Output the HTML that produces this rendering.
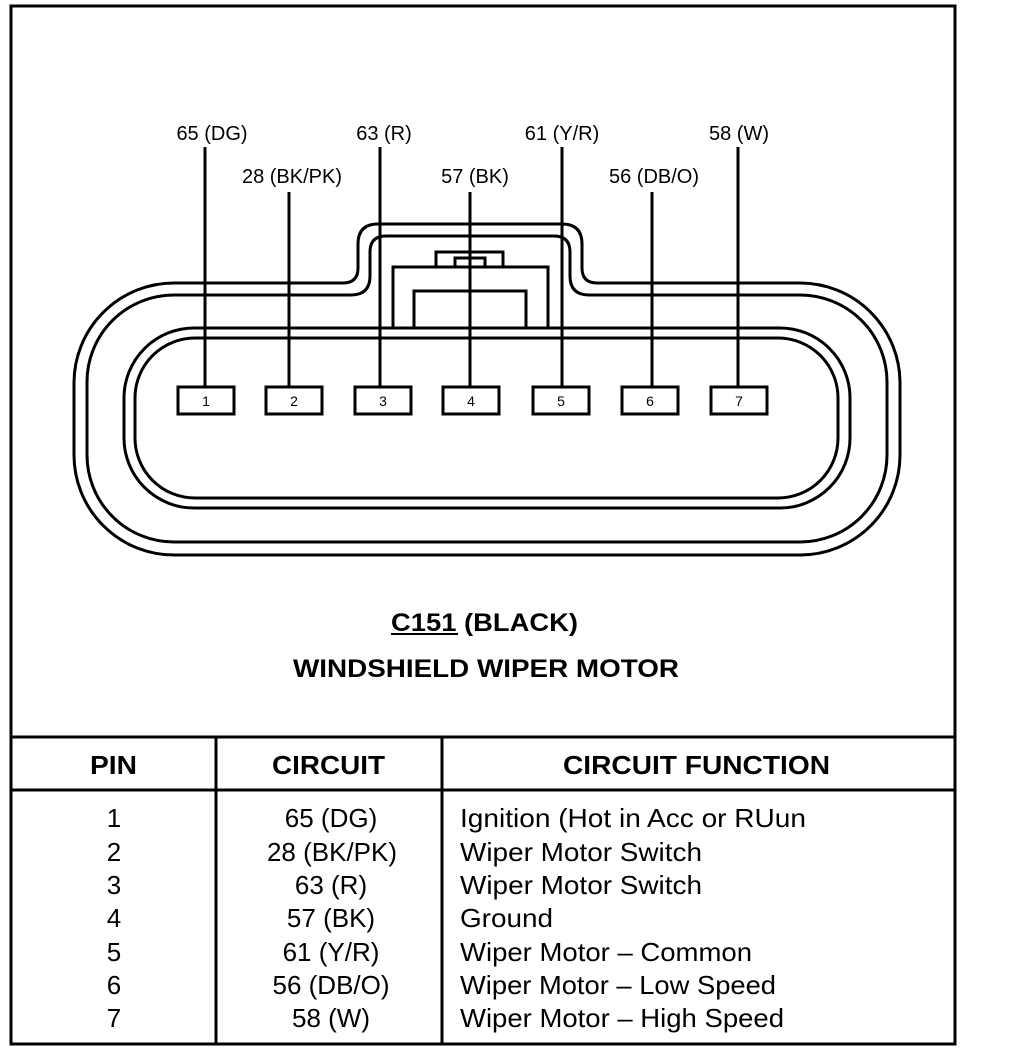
<!DOCTYPE html>
<html><head><meta charset="utf-8"><style>
html,body{margin:0;padding:0;background:#fff;width:1024px;height:1056px;overflow:hidden}
svg{display:block}
text{font-family:"Liberation Sans",Arial,sans-serif;fill:#000}
</style></head><body>
<svg width="1024" height="1056" viewBox="0 0 1024 1056" xmlns="http://www.w3.org/2000/svg">
<rect x="11" y="6" width="944" height="1038" fill="none" stroke="#000" stroke-width="3"/>
<g fill="none" stroke="#000" stroke-width="3">
<path d="M174,283 L343,283 Q358,283 358,268 L358,244 Q358,224 378,224 L562,224 Q582,224 582,244 L582,268 Q582,283 597,283 L800,283 A100 100 0 0 1 900 383 L900 455 A100 100 0 0 1 800 555 L174 555 A100 100 0 0 1 74 455 L74 383 A100 100 0 0 1 174 283 Z"/>
<path d="M174,295 L351,295 Q370,295 370,276 L370,252 Q370,236 386,236 L554,236 Q570,236 570,252 L570,276 Q570,295 589,295 L800,295 A87 87 0 0 1 887 382 L887 455 A87 87 0 0 1 800 542 L174 542 A87 87 0 0 1 87 455 L87 382 A87 87 0 0 1 174 295 Z"/>
<path d="M194,328 L780,328 A70 70 0 0 1 850 398 L850 438 A70 70 0 0 1 780 508 L194 508 A70 70 0 0 1 124 438 L124 398 A70 70 0 0 1 194 328 Z"/>
<path d="M195,338 L778,338 A60 60 0 0 1 838 398 L838 438 A60 60 0 0 1 778 498 L195 498 A60 60 0 0 1 135 438 L135 398 A60 60 0 0 1 195 338 Z"/>
<path d="M393,328 L393,267 L548,267 L548,328"/>
<path d="M414,328 L414,291 L526,291 L526,328"/>
<path d="M436,267 L436,252 L503,252 L503,267"/>
<path d="M455,267 L455,258 L485,258 L485,267"/>
</g>
<g stroke="#000" stroke-width="3">
<line x1="205" y1="147" x2="205" y2="387"/>
<line x1="289" y1="192" x2="289" y2="387"/>
<line x1="380" y1="147" x2="380" y2="387"/>
<line x1="470" y1="192" x2="470" y2="387"/>
<line x1="562" y1="147" x2="562" y2="387"/>
<line x1="652" y1="192" x2="652" y2="387"/>
<line x1="738" y1="147" x2="738" y2="387"/>
</g>
<g fill="#fff" stroke="#000" stroke-width="3">
<rect x="178" y="387" width="56" height="27"/>
<rect x="266" y="387" width="56" height="27"/>
<rect x="355" y="387" width="56" height="27"/>
<rect x="443" y="387" width="56" height="27"/>
<rect x="533" y="387" width="56" height="27"/>
<rect x="622" y="387" width="56" height="27"/>
<rect x="711" y="387" width="56" height="27"/>
</g>
<g font-size="14" text-anchor="middle">
<text x="206" y="406">1</text><text x="294" y="406">2</text><text x="383" y="406">3</text><text x="471" y="406">4</text><text x="561" y="406">5</text><text x="650" y="406">6</text><text x="739" y="406">7</text>
</g>
<g font-size="20" text-anchor="middle">
<text x="212" y="140">65 (DG)</text>
<text x="384" y="140">63 (R)</text>
<text x="562" y="140">61 (Y/R)</text>
<text x="739" y="140">58 (W)</text>
<text x="292" y="183">28 (BK/PK)</text>
<text x="475" y="183">57 (BK)</text>
<text x="654" y="183">56 (DB/O)</text>
</g>
<g font-size="25" font-weight="bold">
<text x="391" y="631" textLength="187" lengthAdjust="spacingAndGlyphs">C151 (BLACK)</text>
<text x="293" y="677" textLength="386" lengthAdjust="spacingAndGlyphs">WINDSHIELD WIPER MOTOR</text>
</g>
<line x1="391" y1="634" x2="458" y2="634" stroke="#000" stroke-width="2"/>
<g stroke="#000" stroke-width="3">
<line x1="11" y1="737" x2="955" y2="737"/>
<line x1="11" y1="790" x2="955" y2="790"/>
<line x1="216" y1="737" x2="216" y2="1044"/>
<line x1="442" y1="737" x2="442" y2="1044"/>
</g>
<g font-size="26" font-weight="bold">
<text x="90" y="774" textLength="47" lengthAdjust="spacingAndGlyphs">PIN</text>
<text x="272" y="774" textLength="113" lengthAdjust="spacingAndGlyphs">CIRCUIT</text>
<text x="563" y="774" textLength="267" lengthAdjust="spacingAndGlyphs">CIRCUIT FUNCTION</text>
</g>
<g font-size="26" text-anchor="middle">
<text x="114" y="827">1</text><text x="114" y="861">2</text><text x="114" y="894">3</text><text x="114" y="927">4</text><text x="114" y="961">5</text><text x="114" y="994">6</text><text x="114" y="1027">7</text>
<text x="331" y="827">65 (DG)</text><text x="332" y="861">28 (BK/PK)</text><text x="331" y="894">63 (R)</text><text x="331" y="927">57 (BK)</text><text x="331" y="961">61 (Y/R)</text><text x="331" y="994">56 (DB/O)</text><text x="331" y="1027">58 (W)</text>
</g>
<g font-size="26">
<text x="460" y="827" textLength="346" lengthAdjust="spacingAndGlyphs">Ignition (Hot in Acc or RUun</text>
<text x="460" y="861" textLength="242" lengthAdjust="spacingAndGlyphs">Wiper Motor Switch</text>
<text x="460" y="894" textLength="242" lengthAdjust="spacingAndGlyphs">Wiper Motor Switch</text>
<text x="460" y="927" textLength="93" lengthAdjust="spacingAndGlyphs">Ground</text>
<text x="460" y="961" textLength="292" lengthAdjust="spacingAndGlyphs">Wiper Motor – Common</text>
<text x="460" y="994" textLength="316" lengthAdjust="spacingAndGlyphs">Wiper Motor – Low Speed</text>
<text x="460" y="1027" textLength="324" lengthAdjust="spacingAndGlyphs">Wiper Motor – High Speed</text>
</g>
</svg>
</body></html>
